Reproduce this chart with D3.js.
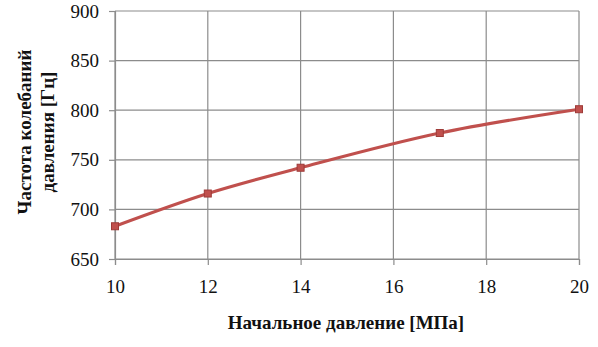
<!DOCTYPE html>
<html>
<head>
<meta charset="utf-8">
<script src="https://cdn.jsdelivr.net/npm/d3@7"></script>
<style>
  body { margin: 0; background: #fff; }
  svg text { font-family: "Times New Roman", "Liberation Serif", serif; }
</style>
</head>
<body>
<div id="canvas"></div>
<script>
// values
var pressure = [10, 12, 14, 17, 20];
var frequency = [683, 716, 742, 777, 801];
var xTicks = [10, 12, 14, 16, 18, 20];
var yTicks = [650, 700, 750, 800, 850, 900];

var width = 598, height = 347;
var margin = {left: 115, right: 19, top: 11, bottom: 88};

var svg = d3.select("#canvas").append("svg")
  .attr("width", width)
  .attr("height", height);

var xScale = d3.scaleLinear().domain([10, 20]).range([margin.left, width - margin.right]);
var yScale = d3.scaleLinear().domain([650, 900]).range([height - margin.bottom, margin.top]);

//grid lines
svg.append("g")
  .selectAll("line.h")
  .data(yTicks)
  .enter().append("line")
  .attr("x1", xScale(10)).attr("x2", xScale(20))
  .attr("y1", function(d){ return yScale(d); })
  .attr("y2", function(d){ return yScale(d); })
  .attr("stroke", "#8c8c8c").attr("stroke-width", 1.2);

svg.append("g")
  .selectAll("line.v")
  .data(xTicks)
  .enter().append("line")
  .attr("y1", yScale(650)).attr("y2", yScale(900))
  .attr("x1", function(d){ return xScale(d); })
  .attr("x2", function(d){ return xScale(d); })
  .attr("stroke", "#8c8c8c").attr("stroke-width", 1.2);

//axes
var yAxis = svg.append("g")
  .attr("transform", "translate(" + xScale(10) + ",0)")
  .call(d3.axisLeft(yScale).tickValues(yTicks).tickSize(6).tickPadding(10));
var xAxis = svg.append("g")
  .attr("transform", "translate(0," + yScale(650) + ")")
  .call(d3.axisBottom(xScale).tickValues(xTicks).tickSize(6).tickPadding(10));

[xAxis, yAxis].forEach(function(a){
  a.attr("font-family", null);
  a.select(".domain").attr("stroke", "#8c8c8c").attr("stroke-width", 1.2);
  a.selectAll(".tick line").attr("stroke", "#8c8c8c").attr("stroke-width", 1.2);
  a.selectAll("text")
    .attr("fill", "#111")
    .style("font-size", "19px");
});
xAxis.selectAll("text").attr("dy", "0.95em");

//data line
var pts = pressure.map(function(p, i){ return [p, frequency[i]]; });
var genLine = d3.line().curve(d3.curveCatmullRom.alpha(0.5))
  .x(function(d){ return xScale(d[0]); })
  .y(function(d){ return yScale(d[1]); });

svg.append("path")
  .attr("d", genLine(pts))
  .attr("fill", "none")
  .attr("stroke", "#c0504d")
  .attr("stroke-width", 3);

svg.selectAll("rect.marker")
  .data(pts)
  .enter().append("rect")
  .attr("x", function(d){ return xScale(d[0]) - 3.5; })
  .attr("y", function(d){ return yScale(d[1]) - 3.5; })
  .attr("width", 7).attr("height", 7)
  .attr("fill", "#c0504d")
  .attr("stroke", "#9e3b38")
  .attr("stroke-width", 1);

//axis titles
svg.append("text")
  .attr("x", (xScale(10) + xScale(20)) / 2 - 1)
  .attr("y", 329)
  .attr("text-anchor", "middle")
  .style("font-weight", "bold")
  .style("font-size", "19px")
  .attr("fill", "#111")
  .text("Начальное давление [МПа]");

var yt = svg.append("text")
  .attr("transform", "translate(31," + ((yScale(650) + yScale(900)) / 2 - 3) + ") rotate(-90)")
  .attr("text-anchor", "middle")
  .style("font-weight", "bold")
  .style("font-size", "19px")
  .attr("fill", "#111");
yt.append("tspan").attr("x", 0).attr("dy", 0).text("Частота колебаний");
yt.append("tspan").attr("x", 0).attr("dy", 23).text("давления [Гц]");
</script>
</body>
</html>
